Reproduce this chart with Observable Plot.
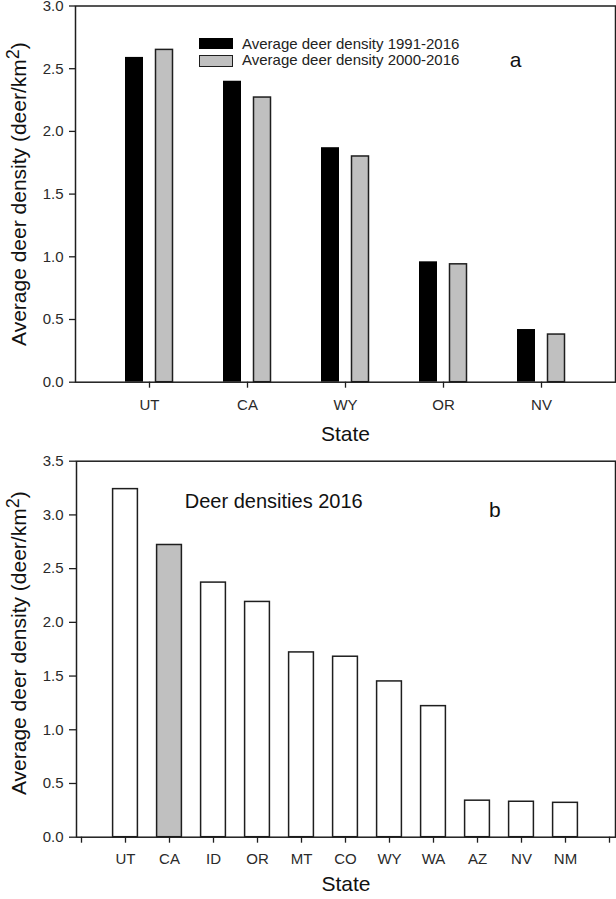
<!DOCTYPE html>
<html><head><meta charset="utf-8">
<script src="https://cdn.jsdelivr.net/npm/d3@7"></script>
<script src="https://cdn.jsdelivr.net/npm/@observablehq/plot@0.6"></script>
<style>
body{margin:0;background:#fff;}
#wrap{position:relative;width:616px;height:899px;font-family:"Liberation Sans",Arial,sans-serif;color:#222;}
#wrap svg{display:block;}
.sw{position:absolute;left:199px;width:34px;box-sizing:border-box;}
.lt{position:absolute;left:242px;font-size:15px;line-height:15px;white-space:nowrap;color:#222;}
</style></head>
<body><div id="wrap"></div>
<script>
// ---- data ----
const statesA = ["UT","CA","WY","OR","NV"];
const density1991_2016 = [2.59, 2.40, 1.87, 0.96, 0.42];
const density2000_2016 = [2.65, 2.27, 1.80, 0.94, 0.38];
const seriesNames = ["Average deer density 1991-2016", "Average deer density 2000-2016"];
const statesB = ["UT","CA","ID","OR","MT","CO","WY","WA","AZ","NV","NM"];
const density2016 = [3.24, 2.72, 2.37, 2.19, 1.72, 1.68, 1.45, 1.22, 0.34, 0.33, 0.32];
const highlightState = "CA";
const yTicksA = [0, 0.5, 1.0, 1.5, 2.0, 2.5, 3.0];
const yTicksB = [0, 0.5, 1.0, 1.5, 2.0, 2.5, 3.0, 3.5];
const xTitle = "State";
const yTitleMain = "Average deer density (deer/km";
const yTitleSup = "2";
const yTitleEnd = ")";
const panelA = "a", panelB = "b";
const noteB = "Deer densities 2016";

const tableA = statesA.map((s, i) => ({state: s, d1991: density1991_2016[i], d2000: density2000_2016[i]}));
const tableB = statesB.map((s, i) => ({state: s, d2016: density2016[i]}));

const FONT = '"Liberation Sans", Arial, sans-serif';
const INK = "#1e1e1e";
const GRAY = "#c0c0c0";
const fmt = d => d.toFixed(1);

function fixYTitle(svg) {
  const ns = "http://www.w3.org/2000/svg";
  svg.querySelectorAll("text").forEach(t => {
    if (t.textContent !== yTitleMain) return;
    t.textContent = "";
    t.append(document.createTextNode(yTitleMain));
    const s = document.createElementNS(ns, "tspan");
    s.setAttribute("dy", "-7"); s.setAttribute("font-size", "18"); s.textContent = yTitleSup;
    const e = document.createElementNS(ns, "tspan");
    e.setAttribute("dy", "7"); e.textContent = yTitleEnd;
    t.append(s, e);
  });
}

// ---- panel a ----
const chartA = Plot.plot({
  width: 616, height: 452,
  marginLeft: 75, marginRight: 1, marginTop: 5.5, marginBottom: 70.3,
  style: {fontFamily: FONT, fontSize: "15px", color: INK, background: "white", overflow: "visible"},
  x: {type: "band", domain: statesA, range: [98.8, 590.9], padding: 0, label: null},
  y: {domain: [0, 3], label: null},
  marks: [
    Plot.barY(tableA, {x: "state", y: "d1991", fill: "black", insetLeft: 40, insetRight: 40, dx: -15}),
    Plot.barY(tableA, {x: "state", y: "d2000", fill: GRAY, stroke: INK, strokeWidth: 1.5, insetLeft: 40.5, insetRight: 40.5, dx: 15}),
    Plot.frame({stroke: INK, strokeWidth: 1.5}),
    Plot.axisY({ticks: yTicksA, tickFormat: fmt, tickSize: 6, tickPadding: 6, label: null, fontSize: 15, stroke: INK, strokeWidth: 1.3, fill: "#2a2a2a"}),
    Plot.axisX({tickSize: 6, tickPadding: 11, label: null, fontSize: 15, stroke: INK, strokeWidth: 1.3, fill: "#2a2a2a"}),
    Plot.text([xTitle], {text: d => d, frameAnchor: "bottom", dy: 58.3, fontSize: 21, fill: "#111"}),
    Plot.text([yTitleMain], {text: d => d, frameAnchor: "left", textAnchor: "middle", rotate: -90, dx: -56.7, dy: 0, fontSize: 21, fill: "#111"}),
    Plot.text([panelA], {text: d => d, frameAnchor: "top-left", textAnchor: "middle", dx: 440, dy: 46, fontSize: 21, fill: "#111"})
  ]
});
fixYTitle(chartA);

// ---- panel b ----
const chartB = Plot.plot({
  width: 616, height: 447,
  marginLeft: 76, marginRight: 1, marginTop: 8.7, marginBottom: 62.3,
  style: {fontFamily: FONT, fontSize: "15px", color: INK, background: "white", overflow: "visible"},
  x: {type: "band", domain: ["", ...statesB, " "], range: [55.7, 635.3], padding: 0, label: null},
  y: {domain: [0, 3.5], label: null},
  marks: [
    Plot.barY(tableB, {x: "state", y: "d2016", fill: d => d.state === highlightState ? GRAY : "white", stroke: INK, strokeWidth: 1.5, insetLeft: 9.6, insetRight: 9.6}),
    Plot.frame({stroke: INK, strokeWidth: 1.5}),
    Plot.axisY({ticks: yTicksB, tickFormat: fmt, tickSize: 7, tickPadding: 6, label: null, fontSize: 15, stroke: INK, strokeWidth: 1.3, fill: "#2a2a2a"}),
    Plot.axisX({tickSize: 6, tickPadding: 10.6, label: null, fontSize: 15, stroke: INK, strokeWidth: 1.3, fill: "#2a2a2a"}),
    Plot.text([xTitle], {text: d => d, frameAnchor: "bottom", dy: 53.6, fontSize: 21, fill: "#111"}),
    Plot.text([yTitleMain], {text: d => d, frameAnchor: "left", textAnchor: "middle", rotate: -90, dx: -57.7, dy: -6, fontSize: 21, fill: "#111"}),
    Plot.text([noteB], {text: d => d, frameAnchor: "top-left", textAnchor: "start", dx: 108.3, dy: 32.9, fontSize: 20, fill: "#111"}),
    Plot.text([panelB], {text: d => d, frameAnchor: "top-left", textAnchor: "middle", dx: 418.3, dy: 40.6, fontSize: 21, fill: "#111"})
  ]
});
fixYTitle(chartB);

const wrap = document.getElementById("wrap");
wrap.append(chartA, chartB);

// ---- legend for panel a (overlay inside the frame) ----
const swA = document.createElement("div");
swA.className = "sw"; swA.style.top = "37.7px"; swA.style.height = "11.6px"; swA.style.background = "black";
const swB = document.createElement("div");
swB.className = "sw"; swB.style.top = "55.3px"; swB.style.height = "11.6px"; swB.style.background = GRAY; swB.style.border = "1.5px solid " + INK;
const ltA = document.createElement("div");
ltA.className = "lt"; ltA.style.top = "35.8px"; ltA.textContent = seriesNames[0];
const ltB = document.createElement("div");
ltB.className = "lt"; ltB.style.top = "52.3px"; ltB.textContent = seriesNames[1];
wrap.append(swA, swB, ltA, ltB);
</script>
</body></html>
